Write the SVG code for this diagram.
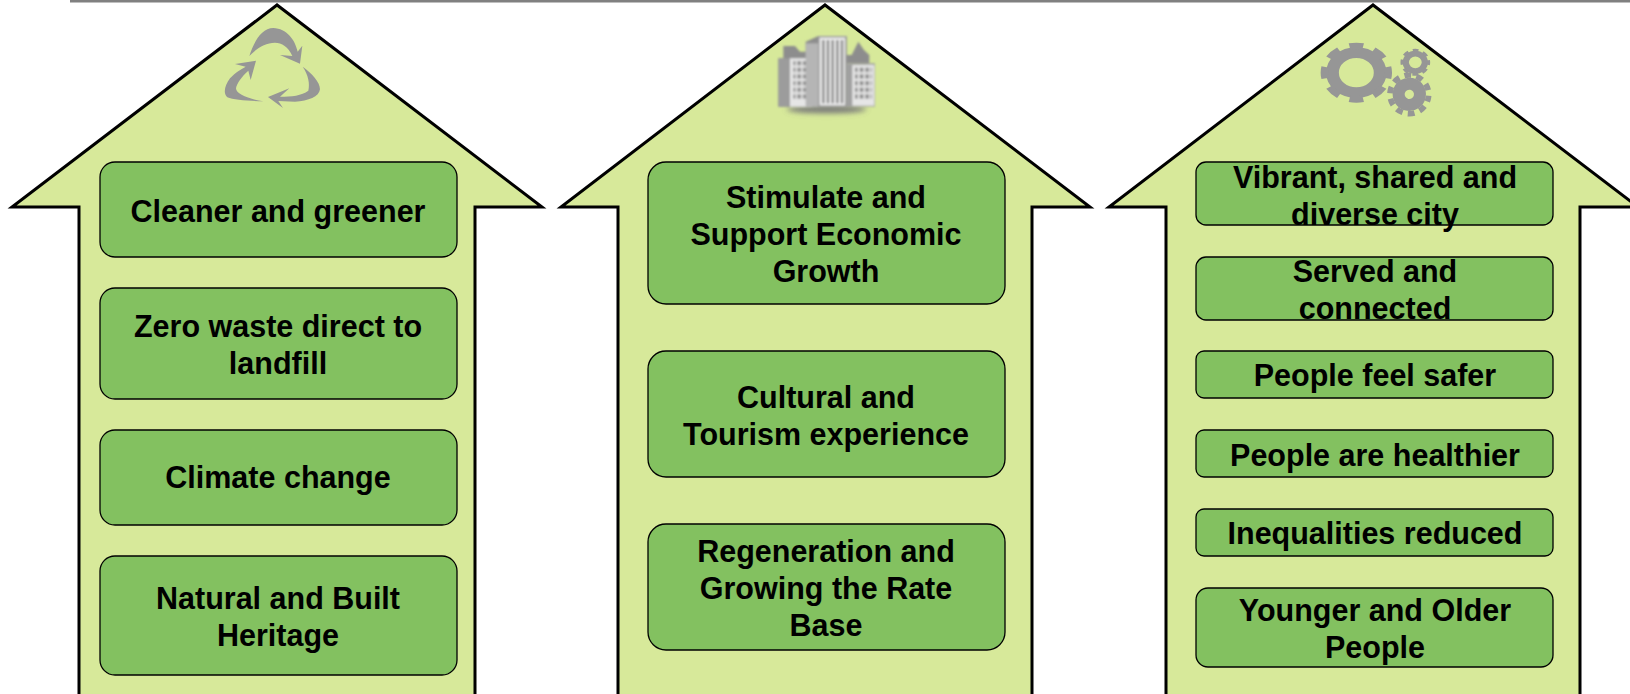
<svg xmlns="http://www.w3.org/2000/svg" width="1630" height="694" viewBox="0 0 1630 694">
<style>
.arrow{fill:#d7e99a;stroke:#000;stroke-width:3}
.box{fill:#83c160;stroke:#000;stroke-width:1.3}
text{font-family:"Liberation Sans",Arial,sans-serif;font-weight:700;font-size:30.5px;text-anchor:middle;fill:#000}
.ico{fill:#969696}
.gear{fill:none;stroke:#969696}
</style>
<defs>
<pattern id="win" width="17" height="20" patternUnits="userSpaceOnUse"><rect x="2" y="3" width="11" height="13" fill="#8c8c8c"/></pattern>
<filter id="soft" x="-10%" y="-10%" width="120%" height="120%"><feGaussianBlur stdDeviation="2.5"/></filter>
<filter id="shade" x="-30%" y="-100%" width="160%" height="300%"><feGaussianBlur stdDeviation="8"/></filter>
</defs>
<rect x="70" y="0" width="1560" height="2.5" fill="#808080"/>

<g id="arrow-environment">
<path class="arrow" d="M79 700V207H12L277 5 542 207H475V700Z"/>
<g id="icon-recycle" class="ico" transform="translate(180 0) scale(.3333)">
<path d="M208 168C222 125 245 84 280 84 320 86 345 118 353 155L367 137 360 191 300 165 337 168C325 140 305 128 285 128 255 128 230 145 208 168Z"/>
<path d="M250 304C205 303 160 300 142 292 128 280 135 255 150 235 165 218 185 207 197 200L165 192 228 182 212 240 205 212C185 230 170 250 168 265 168 282 205 297 250 304Z"/>
<path d="M368 200C395 220 420 245 420 268 418 290 385 303 345 305L295 303 309 324 264 291 328 265 300 290C335 290 365 287 385 272 390 250 385 225 368 200Z"/>
</g>
</g>
<g id="arrow-economy">
<path class="arrow" d="M618 700V207H561L825 5 1090 207H1032V700Z"/>
<g id="icon-city" transform="translate(740 0) scale(.3333)" filter="url(#soft)">
<ellipse cx="260" cy="328" rx="120" ry="12" fill="#7a7a7a" filter="url(#shade)"/>
<path fill="#8d8d8d" d="M130 175V138H165L180 155H197V125L235 108H320V165H335L355 125 372 150 388 165V190H320V320H115V175Z"/>
<rect x="115" y="175" width="100" height="145" fill="#9c9c9c"/>
<rect x="150" y="175" width="65" height="145" fill="#e6e6e6"/>
<rect x="160" y="182" width="51" height="120" fill="url(#win)"/>
<rect x="197" y="130" width="38" height="190" fill="#b5b5b5"/>
<rect x="235" y="108" width="85" height="212" fill="#a0a0a0"/>
<rect x="239" y="113" width="76" height="203" fill="#ececec"/>
<path fill="none" stroke="#858585" stroke-width="7" d="M250 120V310M264 120V310M278 120V310M292 120V310M306 120V310"/>
<rect x="320" y="190" width="85" height="130" fill="#a0a0a0"/>
<rect x="337" y="195" width="66" height="122" fill="#e6e6e6"/>
<rect x="345" y="200" width="51" height="100" fill="url(#win)"/>
</g>
</g>
<g id="arrow-community">
<path class="arrow" d="M1166 700V207H1109L1373 5 1638 207H1580V700Z"/>
<g id="icon-gears" transform="translate(1290 0) scale(.3333)">
<g transform="translate(199 218) scale(1.19 1)">
<circle class="gear" r="60" stroke-width="32"/>
<circle class="gear" r="80" stroke-width="20" pathLength="16" stroke-dasharray="1.1 .9" stroke-dashoffset=".55"/>
</g>
<g transform="translate(376 187) scale(1.1 1)">
<circle class="gear" r="26" stroke-width="17"/>
<circle class="gear" r="36" stroke-width="9" pathLength="16" stroke-dasharray="1.1 .9" stroke-dashoffset=".55"/>
</g>
<g transform="translate(358 283) rotate(12)">
<circle class="gear" r="32" stroke-width="36"/>
<circle class="gear" r="58" stroke-width="17" pathLength="20" stroke-dasharray="1.1 .9" stroke-dashoffset=".55"/>
</g>
</g>
</g>

<g id="connectors"></g>

<g id="n1"><rect class="box" x="100" y="162" width="357" height="95" rx="15"/><text x="278" y="222">Cleaner and greener</text></g>
<g id="n2"><rect class="box" x="100" y="288" width="357" height="111" rx="15"/><text x="278" y="337">Zero waste direct to</text><text x="278" y="374">landfill</text></g>
<g id="n3"><rect class="box" x="100" y="430" width="357" height="95" rx="15"/><text x="278" y="488">Climate change</text></g>
<g id="n4"><rect class="box" x="100" y="556" width="357" height="119" rx="15"/><text x="278" y="609">Natural and Built</text><text x="278" y="646">Heritage</text></g>

<g id="n5"><rect class="box" x="648" y="162" width="357" height="142" rx="18"/><text x="826" y="208">Stimulate and</text><text x="826" y="245">Support Economic</text><text x="826" y="282">Growth</text></g>
<g id="n6"><rect class="box" x="648" y="351" width="357" height="126" rx="18"/><text x="826" y="408">Cultural and</text><text x="826" y="445">Tourism experience</text></g>
<g id="n7"><rect class="box" x="648" y="524" width="357" height="126" rx="18"/><text x="826" y="562">Regeneration and</text><text x="826" y="599">Growing the Rate</text><text x="826" y="636">Base</text></g>

<g id="n8"><rect class="box" x="1196" y="162" width="357" height="63" rx="10"/><text x="1375" y="188">Vibrant, shared and</text><text x="1375" y="225">diverse city</text></g>
<g id="n9"><rect class="box" x="1196" y="257" width="357" height="63" rx="10"/><text x="1375" y="282">Served and</text><text x="1375" y="319">connected</text></g>
<g id="n10"><rect class="box" x="1196" y="351" width="357" height="47" rx="8"/><text x="1375" y="386">People feel safer</text></g>
<g id="n11"><rect class="box" x="1196" y="430" width="357" height="47" rx="8"/><text x="1375" y="466">People are healthier</text></g>
<g id="n12"><rect class="box" x="1196" y="509" width="357" height="47" rx="8"/><text x="1375" y="544">Inequalities reduced</text></g>
<g id="n13"><rect class="box" x="1196" y="588" width="357" height="79" rx="12"/><text x="1375" y="621">Younger and Older</text><text x="1375" y="658">People</text></g>
</svg>
